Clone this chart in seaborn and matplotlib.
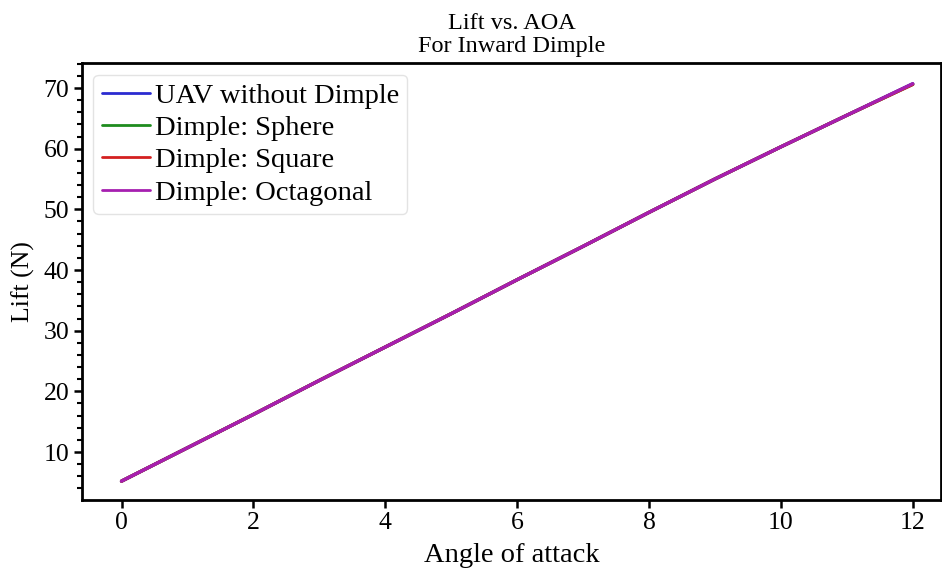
import numpy as np
import pandas as pd
import matplotlib
matplotlib.use("Agg")
import matplotlib.pyplot as plt
import seaborn as sns
from matplotlib.ticker import MultipleLocator

aoa = [0, 1, 2, 3, 4, 5, 6, 7, 8, 9, 10, 11, 12]
lift_plain = [5.2, 10.7, 16.2, 21.8, 27.3, 32.8, 38.4, 43.9, 49.5, 55.0, 60.3, 65.5, 70.7]
lift_sphere = [5.2, 10.7, 16.2, 21.8, 27.3, 32.8, 38.4, 43.9, 49.5, 55.0, 60.3, 65.5, 70.6]
lift_square = [5.2, 10.7, 16.2, 21.8, 27.3, 32.8, 38.4, 43.9, 49.5, 55.0, 60.3, 65.5, 70.6]
lift_octagonal = [5.2, 10.7, 16.2, 21.8, 27.3, 32.8, 38.4, 43.9, 49.5, 55.0, 60.3, 65.5, 70.7]
series_names = ["UAV without Dimple", "Dimple: Sphere", "Dimple: Square", "Dimple: Octagonal"]
colors = ["#2b2bd0", "#1e8c1e", "#d42020", "#a61fb0"]

sns.set_theme(style="ticks", rc={"text.color": "black", "axes.labelcolor": "black",
                                 "xtick.color": "black", "ytick.color": "black"})
plt.rcParams["font.family"] = ["Liberation Serif", "DejaVu Serif"]

frames = []
for name, vals in zip(series_names, [lift_plain, lift_sphere, lift_square, lift_octagonal]):
    frames.append(pd.DataFrame({"AOA": aoa, "Lift": vals, "Series": name}))
df = pd.concat(frames, ignore_index=True)

fig = plt.figure(figsize=(9.42, 5.74), dpi=100)
ax = fig.add_axes([0.087, 0.129, 0.912, 0.761])
sns.lineplot(data=df, x="AOA", y="Lift", hue="Series", hue_order=series_names,
             palette=colors, linewidth=2.4, ax=ax)

ax.set_xlim(-0.6, 12.43)
ax.set_ylim(2.1, 74.1)
ax.set_xticks([0, 2, 4, 6, 8, 10, 12])
ax.set_yticks([10, 20, 30, 40, 50, 60, 70])
ax.yaxis.set_minor_locator(MultipleLocator(2))
ax.tick_params(axis="both", which="major", labelsize=18.5, length=6, width=1.8,
               direction="out", pad=3)
ax.tick_params(axis="y", which="minor", length=3.5, width=1.5)
for s in ax.spines.values():
    s.set_linewidth(2.0)
    s.set_color("black")

ax.set_xlabel("Angle of attack", fontsize=20.5, labelpad=6)
ax.set_ylabel("Lift (N)", fontsize=18.5, labelpad=6)
ax.set_title("Lift vs. AOA\nFor Inward Dimple", fontsize=17.5, linespacing=1.15, pad=8)

leg = ax.legend(loc="upper left", fontsize=20.5, frameon=True, handlelength=1.7,
                handletextpad=0.15, borderpad=0.3, labelspacing=0.22,
                borderaxespad=0.4)
leg.get_frame().set_edgecolor("#dddddd")
for h in leg.get_lines():
    h.set_linewidth(2.0)

fig.savefig("out.png", dpi=100)
